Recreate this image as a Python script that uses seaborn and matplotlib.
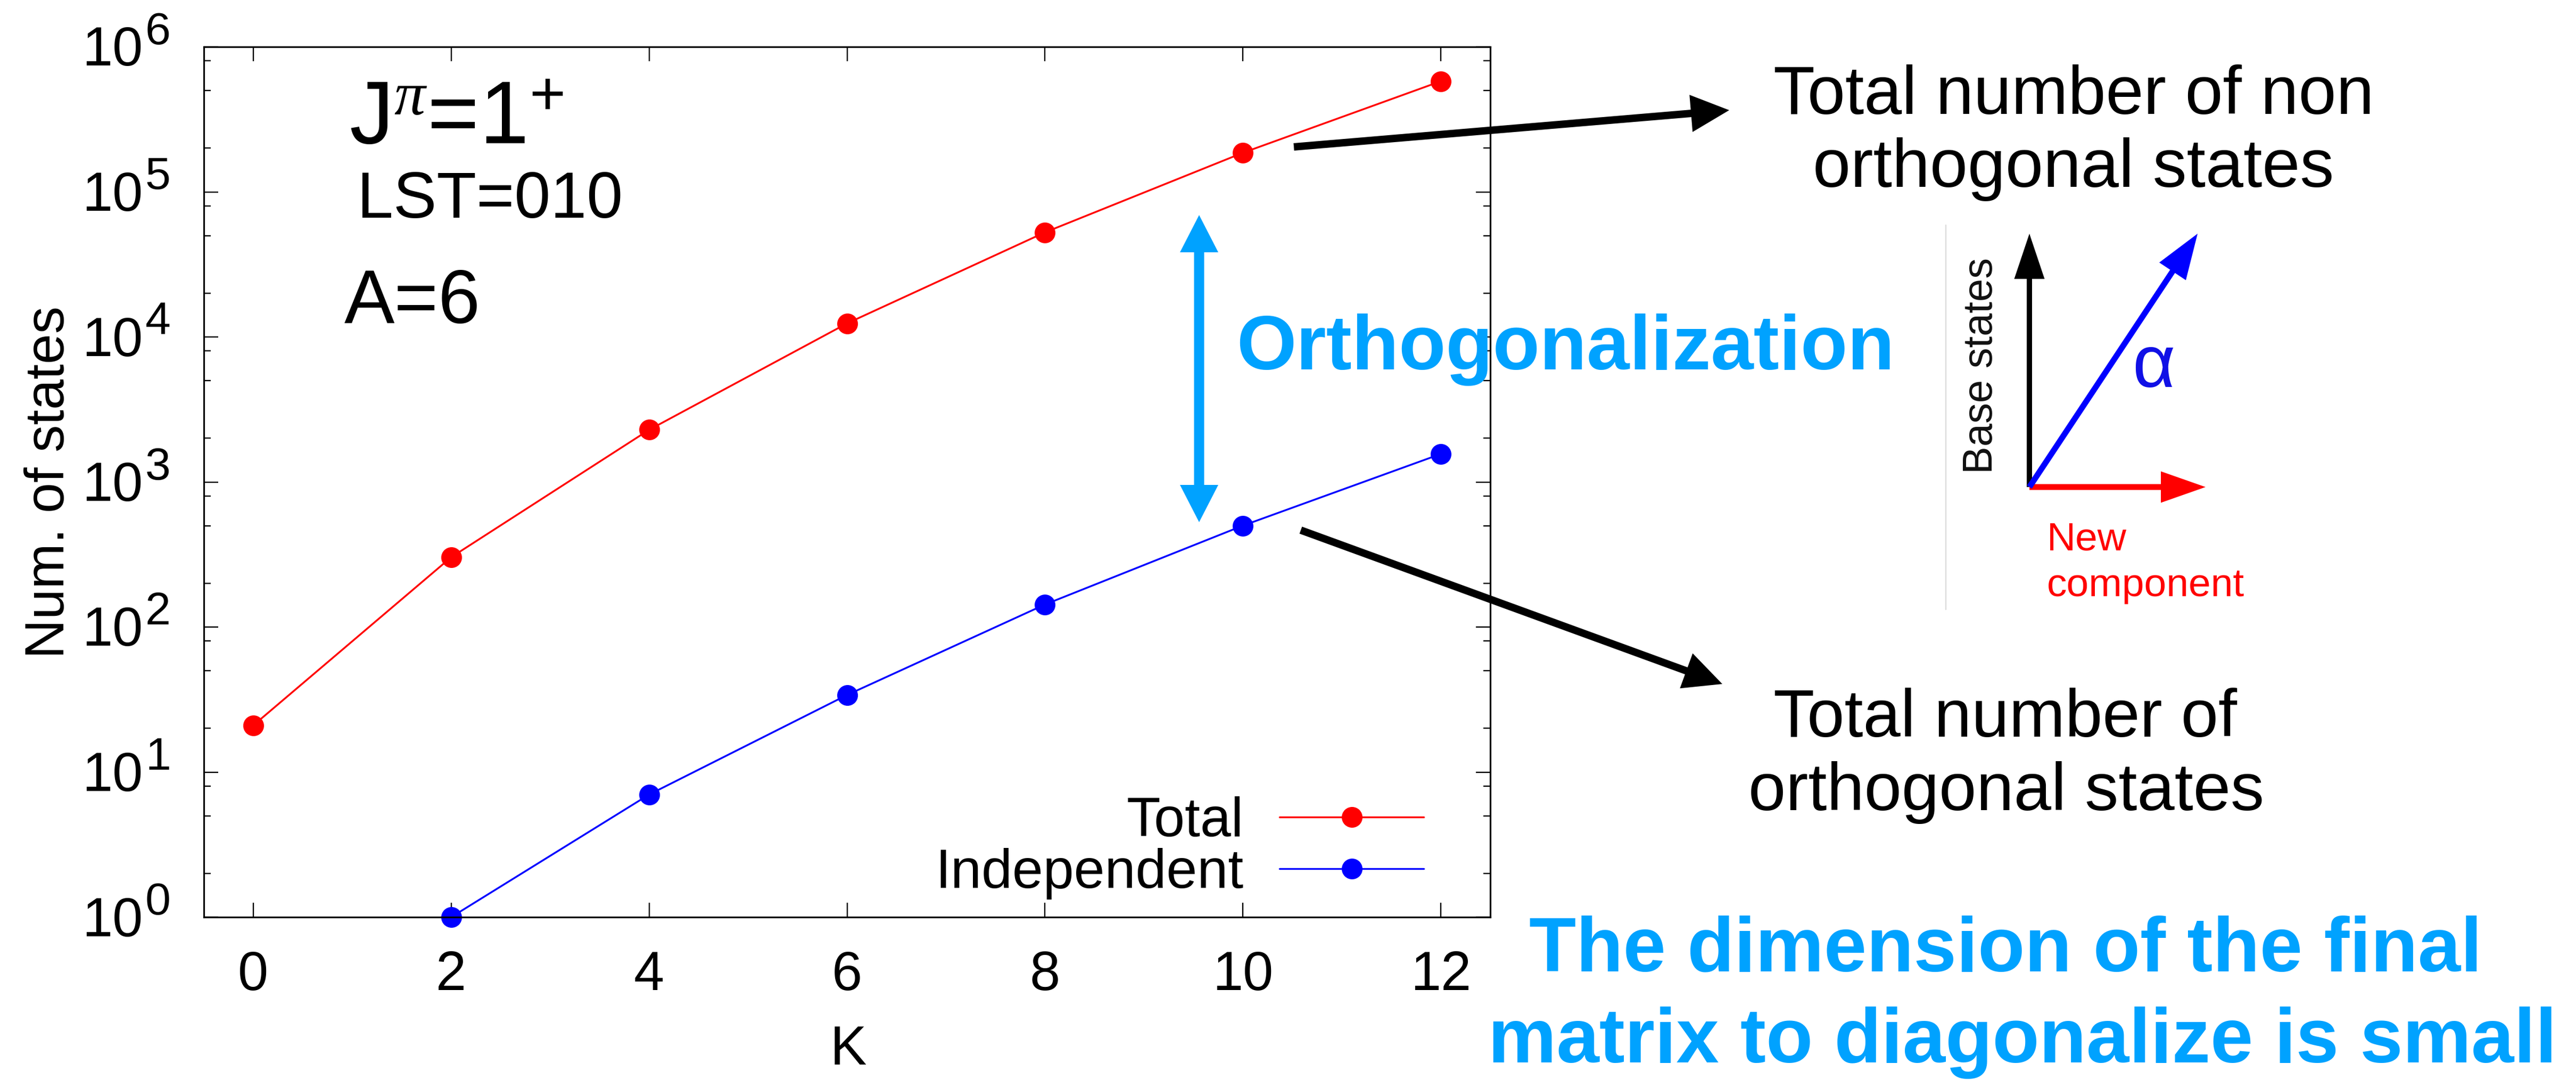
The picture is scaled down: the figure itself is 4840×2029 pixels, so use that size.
import numpy as np
import pandas as pd
import matplotlib
matplotlib.use('Agg')
import matplotlib.pyplot as plt
import matplotlib.transforms as mtransforms
import seaborn as sns
from matplotlib.patches import FancyArrowPatch, ArrowStyle
from matplotlib.ticker import LogLocator, NullFormatter
from matplotlib.lines import Line2D

# ---------------- data ----------------
K_total = [0, 2, 4, 6, 8, 10, 12]
total_states = [21, 303, 2290, 12400, 52600, 186000, 579000]
K_indep = [2, 4, 6, 8, 10, 12]
independent_states = [1, 7, 34, 143, 500, 1560]
series_labels = ['Total', 'Independent']
x_ticks = [0, 2, 4, 6, 8, 10, 12]
y_decades = [0, 1, 2, 3, 4, 5, 6]

# ---------------- style ----------------
sns.set_style('ticks')
plt.rcParams['font.family'] = ['Liberation Sans', 'DejaVu Sans']
plt.rcParams['mathtext.fontset'] = 'custom'
plt.rcParams['mathtext.rm'] = 'Liberation Sans'
plt.rcParams['mathtext.it'] = 'Liberation Serif:italic'
plt.rcParams['mathtext.bf'] = 'Liberation Sans:bold'
for key in ['text.color', 'axes.labelcolor', 'xtick.color', 'ytick.color',
            'axes.edgecolor']:
    plt.rcParams[key] = 'black'

W, H, DPI = 4840, 2029, 100
PT = 72 / DPI  # points per pixel
fig = plt.figure(figsize=(W / DPI, H / DPI), dpi=DPI)
fig.patch.set_facecolor('white')


def fx(px):
    return px / W


def fy(py):
    return 1 - py / H


L, R, T, B = 383, 2800, 88, 1723
ax = fig.add_axes([fx(L), fy(B), fx(R) - fx(L), fy(T) - fy(B)])

df_total = pd.DataFrame({'K': K_total, 'states': total_states})
df_ind = pd.DataFrame({'K': K_indep, 'states': independent_states})
line_kw = dict(marker='o', markersize=39 * PT, markeredgewidth=0,
               linewidth=3.4 * PT, clip_on=False)
sns.lineplot(data=df_total, x='K', y='states', color='#FF0000',
             label=series_labels[0], ax=ax, **line_kw)
sns.lineplot(data=df_ind, x='K', y='states', color='#0000FF',
             label=series_labels[1], ax=ax, **line_kw)

ax.set_yscale('log')
ax.set_ylim(1, 1e6)
ax.set_xlim(-0.5, 12.5)
ax.set_xticks(x_ticks)
ax.set_xticklabels([str(v) for v in x_ticks])
ax.yaxis.set_major_locator(LogLocator(base=10, numticks=10))
ax.yaxis.set_minor_locator(LogLocator(base=10, subs=[2, 5, 8], numticks=20))
ax.yaxis.set_major_formatter(NullFormatter())
ax.yaxis.set_minor_formatter(NullFormatter())

for s in ax.spines.values():
    s.set_linewidth(3.2 * PT)
    s.set_color('black')

ax.tick_params(which='both', direction='in', top=True, right=True,
               color='black', width=2.4 * PT)
ax.tick_params(which='major', length=27 * PT)
ax.tick_params(which='minor', length=13 * PT)
ax.tick_params(axis='x', which='major', labelsize=74, pad=62 * PT)

# gnuplot-like "10^n" labels with a large exponent
ytrans = mtransforms.blended_transform_factory(ax.transAxes, ax.transData)
for n in y_decades:
    t_base = mtransforms.offset_copy(ytrans, fig=fig, x=-115 * PT, y=-9 * PT,
                                     units='points')
    ax.text(0, 10.0 ** n, '10', transform=t_base, fontsize=74,
            ha='right', va='center', clip_on=False)
    t_exp = mtransforms.offset_copy(ytrans, fig=fig, x=-110 * PT, y=5 * PT,
                                    units='points')
    ax.text(0, 10.0 ** n, str(n), transform=t_exp, fontsize=62,
            ha='left', va='baseline', clip_on=False)

ax.set_xlabel('K', fontsize=74)
ax.set_ylabel('Num. of states', fontsize=74)
ax.xaxis.set_label_coords(0.501, -0.1235)
ax.yaxis.set_label_coords(-0.0997, 0.5)

leg = ax.legend(loc='center right', bbox_to_anchor=(0.9483, 0.0795),
                frameon=False, markerfirst=False, fontsize=75,
                handlelength=2.6, handletextpad=0.65, labelspacing=0.0,
                borderpad=0, borderaxespad=0)

# ---------------- in-plot texts ----------------
fig.text(fx(656), fy(270), r'J$^{\mathit{\pi}}$=1$^{+}$', fontsize=120,
         ha='left', va='baseline')
fig.text(fx(671), fy(409), 'LST=010', fontsize=88, ha='left', va='baseline')
fig.text(fx(647), fy(607), 'A=6', fontsize=102, ha='left', va='baseline')

CYAN = '#00A2FF'
fig.text(fx(2323), fy(694), 'Orthogonalization', fontsize=104,
         fontweight='bold', color=CYAN, ha='left', va='baseline')


def arrow(x0, y0, x1, y1, color, tail, hw, hl):
    style = ArrowStyle('simple', head_length=hl * PT, head_width=hw * PT,
                       tail_width=tail * PT)
    p = FancyArrowPatch((fx(x0), fy(y0)), (fx(x1), fy(y1)),
                        transform=fig.transFigure, arrowstyle=style,
                        mutation_scale=1, facecolor=color, edgecolor='none',
                        lw=0, shrinkA=0, shrinkB=0)
    fig.add_artist(p)


# double cyan arrow
arrow(2253, 692, 2253, 404, CYAN, 19, 72, 70)
arrow(2253, 692, 2253, 981, CYAN, 19, 72, 70)
# black pointers
arrow(2431, 276, 3249, 207, 'black', 14, 70, 72)
arrow(2444, 996, 3236, 1285, 'black', 14, 70, 72)

# ---------------- right-hand texts ----------------
fig.text(fx(3896), fy(214), 'Total number of non', fontsize=92,
         ha='center', va='baseline')
fig.text(fx(3896), fy(351), 'orthogonal states', fontsize=92,
         ha='center', va='baseline')
fig.text(fx(3768), fy(1384), 'Total number of', fontsize=91,
         ha='center', va='baseline')
fig.text(fx(3770), fy(1522), 'orthogonal states', fontsize=91,
         ha='center', va='baseline')
fig.text(fx(3768), fy(1824), 'The dimension of the final', fontsize=104,
         fontweight='bold', color=CYAN, ha='center', va='baseline')
fig.text(fx(3800), fy(1996), 'matrix to diagonalize is small', fontsize=104,
         fontweight='bold', color=CYAN, ha='center', va='baseline')

# ---------------- inset vector diagram ----------------
fig.add_artist(Line2D([fx(3656), fx(3656)], [fy(423), fy(1145)],
                      color='#DDDDDD', lw=2.5 * PT, transform=fig.transFigure))
arrow(3813, 915, 3813, 439, 'black', 10, 57, 85)
arrow(3813, 915, 4144, 915, '#FF0000', 11, 59, 84)
arrow(3813, 915, 4129, 439, '#0000FF', 11, 60, 85)
fig.text(fx(3723), fy(687), 'Base states', fontsize=56, rotation=90,
         ha='center', va='center', color='#111111')
fig.text(fx(3846), fy(1033), 'New', fontsize=54, color='#FF0000',
         ha='left', va='baseline')
fig.text(fx(3846), fy(1120), 'component', fontsize=54, color='#FF0000',
         ha='left', va='baseline')
fig.text(fx(4006), fy(727), 'α', fontsize=100, color='#1010E6',
         ha='left', va='baseline')

fig.savefig('out.png', dpi=DPI, facecolor='white')
